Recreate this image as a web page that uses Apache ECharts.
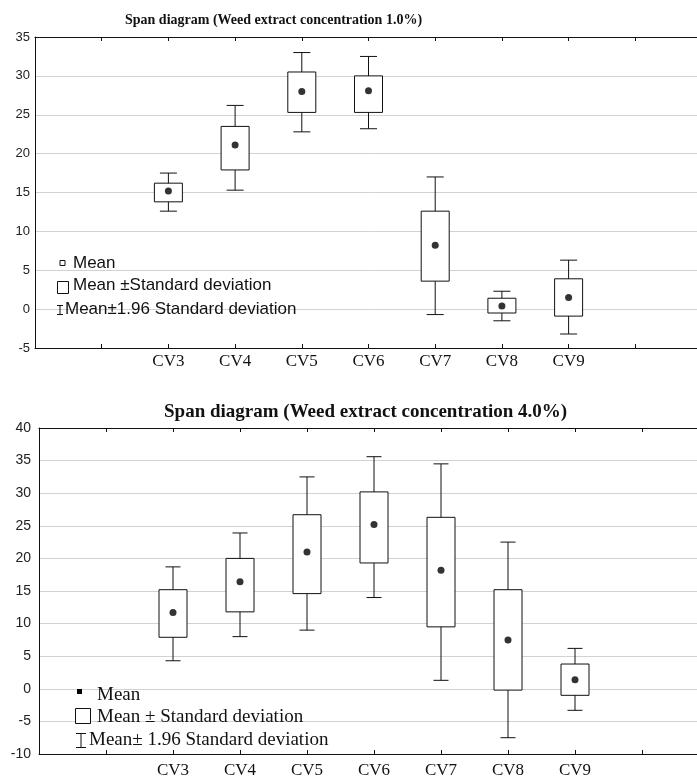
<!DOCTYPE html>
<html>
<head>
<meta charset="utf-8">
<script src="https://cdn.jsdelivr.net/npm/echarts@6/dist/echarts.min.js"></script>
<style>
  html, body { margin: 0; padding: 0; background: #fff; overflow: hidden; }
  /* wider than the window: the original plots are cut off at the right */
  #main { width: 720px; height: 780px; }
</style>
</head>
<body>
<div id="main"></div>
<script>
var categories = ['CV3', 'CV4', 'CV5', 'CV6', 'CV7', 'CV8', 'CV9'];

// concentration 1.0%
var high1    = [17.5, 26.2, 33.0, 32.5, 17.0,  2.3,  6.3];   // mean + 1.96 SD
var boxHigh1 = [16.2, 23.5, 30.5, 30.0, 12.6,  1.4,  3.9];   // mean + SD
var mean1    = [15.2, 21.1, 28.0, 28.1,  8.2,  0.4,  1.5];
var boxLow1  = [13.8, 17.9, 25.3, 25.3,  3.6, -0.5, -0.9];   // mean - SD
var low1     = [12.6, 15.3, 22.8, 23.2, -0.7, -1.5, -3.2];   // mean - 1.96 SD

// concentration 4.0%
var high2    = [18.7, 23.9, 32.5, 35.6, 34.5, 22.5,  6.2];
var boxHigh2 = [15.2, 20.0, 26.7, 30.2, 26.3, 15.2,  3.8];
var mean2    = [11.7, 16.4, 21.0, 25.2, 18.2,  7.5,  1.4];
var boxLow2  = [ 7.9, 11.8, 14.6, 19.3,  9.5, -0.2, -1.0];
var low2     = [ 4.3,  8.0,  9.0, 14.0,  1.3, -7.5, -3.3];

// categories sit at positions 2..8 of a 0..10 axis
var firstPos = 2;

function spanData(low, boxLow, mean, boxHigh, high) {
  return categories.map(function (c, i) {
    return [i + firstPos, low[i], boxLow[i], mean[i], boxHigh[i], high[i]];
  });
}
function meanData(mean) {
  return categories.map(function (c, i) { return [i + firstPos, mean[i]]; });
}

function makeRender(boxW, capW) {
  return function (params, api) {
    var x = api.value(0);
    var pLow = api.coord([x, api.value(1)]);
    var pBoxLow = api.coord([x, api.value(2)]);
    var pBoxHigh = api.coord([x, api.value(4)]);
    var pHigh = api.coord([x, api.value(5)]);
    var cx = pLow[0];
    var line = { stroke: '#111', lineWidth: 1 };
    return {
      type: 'group',
      children: [
        { type: 'line', shape: { x1: cx, y1: pLow[1], x2: cx, y2: pHigh[1] }, style: line },
        { type: 'line', shape: { x1: cx - capW / 2, y1: pLow[1], x2: cx + capW / 2, y2: pLow[1] }, style: line },
        { type: 'line', shape: { x1: cx - capW / 2, y1: pHigh[1], x2: cx + capW / 2, y2: pHigh[1] }, style: line },
        {
          type: 'rect',
          shape: { x: cx - boxW / 2, y: pBoxHigh[1], width: boxW, height: pBoxLow[1] - pBoxHigh[1] },
          style: { fill: '#fff', stroke: '#111', lineWidth: 1 }
        }
      ]
    };
  };
}

function xAxisPair(gridIndex) {
  var base = {
    type: 'value',
    gridIndex: gridIndex,
    min: 0,
    max: 10,
    interval: 1,
    splitLine: { show: false },
    axisLine: { show: true, onZero: false, lineStyle: { color: '#111', width: 1 } },
    axisTick: { show: true, inside: true, length: 4, lineStyle: { color: '#111' } }
  };
  var bottom = Object.assign({}, base, {
    position: 'bottom',
    axisLabel: {
      margin: gridIndex === 0 ? 5 : 8,
      fontFamily: 'Liberation Serif',
      fontSize: 17,
      color: '#111',
      formatter: function (v) { return categories[Math.round(v) - firstPos] || ''; }
    }
  });
  var top = Object.assign({}, base, { position: 'top', axisLabel: { show: false } });
  return [bottom, top];
}

function yAxis(gridIndex, min, max, size, margin) {
  return {
    type: 'value',
    gridIndex: gridIndex,
    min: min,
    max: max,
    interval: 5,
    axisLine: { show: true, lineStyle: { color: '#111', width: 1 } },
    axisTick: { show: false },
    axisLabel: { margin: margin, fontFamily: 'Liberation Sans', fontSize: size, color: '#222' },
    splitLine: { lineStyle: { color: '#d2d2d2', width: 1 } }
  };
}

var chart = echarts.init(document.getElementById('main'), null, { renderer: 'canvas' });

var serif = 'Liberation Serif';
var sans = 'Liberation Sans';

var option = {
  animation: false,
  backgroundColor: '#fff',
  title: [
    {
      text: 'Span diagram (Weed extract concentration 1.0%)',
      left: 120, top: 8,
      textStyle: { fontFamily: serif, fontWeight: 'bold', fontSize: 14, color: '#111' }
    },
    {
      text: 'Span diagram (Weed extract concentration 4.0%)',
      left: 159, top: 398,
      textStyle: { fontFamily: serif, fontWeight: 'bold', fontSize: 19, color: '#111' }
    }
  ],
  grid: [
    { left: 35, top: 37, width: 667, height: 311 },
    { left: 39, top: 428, width: 670, height: 326 }
  ],
  xAxis: xAxisPair(0).concat(xAxisPair(1)),
  yAxis: [
    yAxis(0, -5, 35, 13, 5),
    yAxis(1, -10, 40, 14, 8)
  ],
  series: [
    {
      type: 'custom',
      name: 'span1',
      xAxisIndex: 0, yAxisIndex: 0,
      renderItem: makeRender(28, 17),
      encode: { x: 0, y: [1, 2, 3, 4, 5] },
      data: spanData(low1, boxLow1, mean1, boxHigh1, high1)
    },
    {
      type: 'scatter',
      name: 'mean1',
      xAxisIndex: 0, yAxisIndex: 0,
      symbol: 'circle', symbolSize: 7,
      itemStyle: { color: '#000' },
      data: meanData(mean1)
    },
    {
      type: 'custom',
      name: 'span2',
      xAxisIndex: 2, yAxisIndex: 1,
      renderItem: makeRender(28, 15),
      encode: { x: 0, y: [1, 2, 3, 4, 5] },
      data: spanData(low2, boxLow2, mean2, boxHigh2, high2)
    },
    {
      type: 'scatter',
      name: 'mean2',
      xAxisIndex: 2, yAxisIndex: 1,
      symbol: 'circle', symbolSize: 7,
      itemStyle: { color: '#000' },
      data: meanData(mean2)
    }
  ],
  // legends drawn inside each plot, above the grid lines
  graphic: [
    // top chart
    { type: 'rect', z: 100, shape: { x: 60, y: 260.5, width: 5, height: 5 }, style: { fill: '#fff', stroke: '#111', lineWidth: 1 } },
    { type: 'text', z: 100, x: 73, y: 263, style: { text: 'Mean', font: '17px ' + sans, fill: '#111', textVerticalAlign: 'middle' } },
    { type: 'rect', z: 100, shape: { x: 57.5, y: 281.5, width: 11, height: 12 }, style: { fill: '#fff', stroke: '#111', lineWidth: 1 } },
    { type: 'text', z: 100, x: 73, y: 285, style: { text: 'Mean \u00b1Standard deviation', font: '17px ' + sans, fill: '#111', textVerticalAlign: 'middle' } },
    { type: 'polyline', z: 100, shape: { points: [[57, 305.5], [63, 305.5]] }, style: { stroke: '#111', lineWidth: 1 } },
    { type: 'polyline', z: 100, shape: { points: [[60, 305.5], [60, 314.5]] }, style: { stroke: '#111', lineWidth: 1 } },
    { type: 'polyline', z: 100, shape: { points: [[57, 314.5], [63, 314.5]] }, style: { stroke: '#111', lineWidth: 1 } },
    { type: 'text', z: 100, x: 65, y: 309, style: { text: 'Mean\u00b11.96 Standard deviation', font: '17px ' + sans, fill: '#111', textVerticalAlign: 'middle' } },
    // bottom chart
    { type: 'rect', z: 100, shape: { x: 77, y: 689, width: 5, height: 5 }, style: { fill: '#000' } },
    { type: 'text', z: 100, x: 97, y: 695, style: { text: 'Mean', font: '19px ' + serif, fill: '#111', textVerticalAlign: 'middle' } },
    { type: 'rect', z: 100, shape: { x: 75.5, y: 708.5, width: 15, height: 15 }, style: { fill: '#fff', stroke: '#111', lineWidth: 1 } },
    { type: 'text', z: 100, x: 97, y: 717, style: { text: 'Mean \u00b1 Standard deviation', font: '19px ' + serif, fill: '#111', textVerticalAlign: 'middle' } },
    { type: 'polyline', z: 100, shape: { points: [[76, 733.5], [86, 733.5]] }, style: { stroke: '#111', lineWidth: 1 } },
    { type: 'polyline', z: 100, shape: { points: [[81, 733.5], [81, 747.5]] }, style: { stroke: '#111', lineWidth: 1 } },
    { type: 'polyline', z: 100, shape: { points: [[76, 747.5], [86, 747.5]] }, style: { stroke: '#111', lineWidth: 1 } },
    { type: 'text', z: 100, x: 89, y: 740, style: { text: 'Mean\u00b1 1.96 Standard deviation', font: '19px ' + serif, fill: '#111', textVerticalAlign: 'middle' } }
  ]
};

chart.setOption(option);
</script>
</body>
</html>
